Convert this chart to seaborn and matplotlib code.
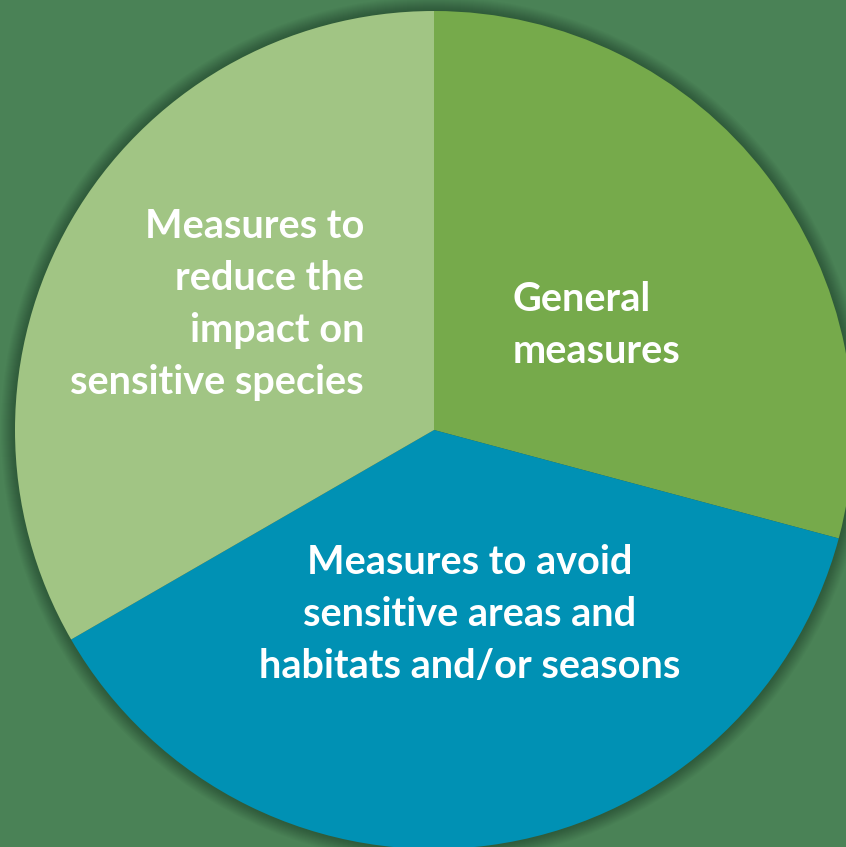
import matplotlib
matplotlib.use("Agg")
import matplotlib.pyplot as plt
import matplotlib.patches as mpatches
import seaborn as sns

sns.set_theme(style="white")
plt.rcParams['font.family'] = ['Lato', 'DejaVu Sans']

# Data
categories = ["General\nmeasures",
              "Measures to avoid\nsensitive areas and\nhabitats and/or seasons",
              "Measures to\nreduce the\nimpact on\nsensitive species"]
values = [7, 9, 8]
colors = ["#76aa4b", "#0091b4", "#a1c584"]
bg = "#4a8256"

W, H = 846, 847
fig = plt.figure(figsize=(W / 100, H / 100), dpi=100, facecolor=bg)
ax = fig.add_axes([0, 0, 1, 1])
ax.set_facecolor(bg)

cx, cy, R = 434, H - 430, 419

# soft shadow around the pie
for k in range(14, 0, -1):
    ax.add_patch(mpatches.Circle((cx, cy), R + k, color="black", alpha=0.018,
                                 lw=0, zorder=0))

ax.pie(values, colors=colors, startangle=90, counterclock=False,
       center=(cx, cy), radius=R, wedgeprops=dict(linewidth=0),
       frame=True)

ax.set_xlim(0, W)
ax.set_ylim(0, H)
ax.set_aspect('equal', adjustable='box')
ax.set_xticks([]); ax.set_yticks([])
for s in ax.spines.values():
    s.set_visible(False)

fs = 28.5
spacing = 52
# (x, first baseline y in image px, alignment)
placements = [(513, 311, "left"), (470, 574, "center"), (364, 238, "right")]
for label, (x, y0, ha) in zip(categories, placements):
    for i, line in enumerate(label.split("\n")):
        ax.text(x, H - (y0 + i * spacing), line, ha=ha, va="baseline",
                color="white", fontsize=fs, fontweight="bold", zorder=5)

fig.savefig("out.png", dpi=100, facecolor=bg)
